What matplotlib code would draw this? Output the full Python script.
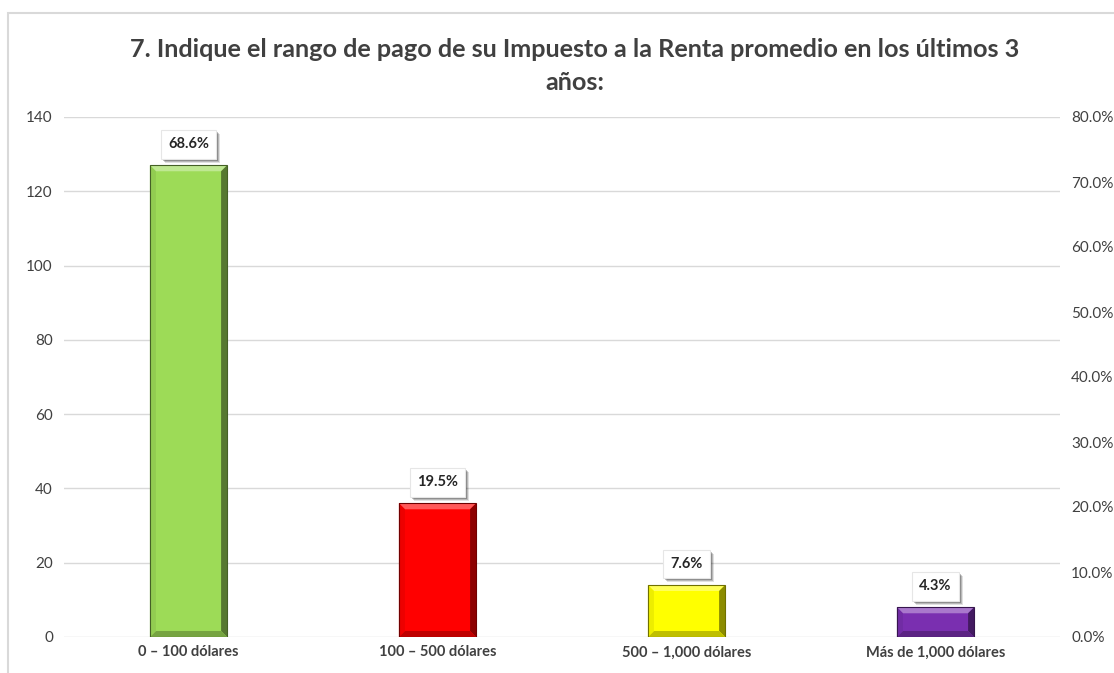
import numpy as np
import matplotlib
matplotlib.use("Agg")
from matplotlib import pyplot as plt
from matplotlib.patches import Rectangle, Polygon
import matplotlib.colors as mcolors

plt.rcParams['font.family'] = ['Lato', 'DejaVu Sans']

categories = ['0 – 100 dólares', '100 – 500 dólares', '500 – 1,000 dólares', 'Más de 1,000 dólares']
counts = [127, 36, 14, 8]
bar_colors = ['#9ddb57', '#ff0000', '#ffff00', '#7a2fb0']
left_ticks = [0, 20, 40, 60, 80, 100, 120, 140]
right_ticks = [0.0, 10.0, 20.0, 30.0, 40.0, 50.0, 60.0, 70.0, 80.0]
title = '7. Indique el rango de pago de su Impuesto a la Renta promedio en los últimos 3\naños:'

total = sum(counts)
pcts = [100.0 * c / total for c in counts]

W, H = 1114, 673
fig = plt.figure(figsize=(W / 100, H / 100), dpi=100)
ax = fig.add_axes([64 / W, 1 - 637 / H, (1060 - 64) / W, (637 - 117) / H])

# outer chart frame
fig.patches.append(Rectangle((8 / W, -0.05), 1.2, 1 - 13 / H + 0.05, transform=fig.transFigure,
                             fill=False, edgecolor='#d9d9d9', linewidth=1.5))

x = np.arange(len(categories))
bars = ax.bar(x, counts, width=0.31, color=bar_colors, zorder=3)
ax.set_xlim(-0.5, len(categories) - 0.5)
ax.set_ylim(0, 140)
ax.set_yticks(left_ticks)
ax.grid(axis='y', color='#d9d9d9', linewidth=1, zorder=0)
ax.set_axisbelow(True)
for s in ax.spines.values():
    s.set_visible(False)
ax.tick_params(axis='y', length=0, pad=8, labelsize=11, labelcolor='#404040')
ax.tick_params(axis='x', length=0, pad=6, labelsize=10.5, labelcolor='#404040')
ax.set_xticks(x)
ax.set_xticklabels(categories, fontweight='bold')

ax2 = ax.twinx()
ax2.set_ylim(0, 80)
ax2.set_yticks(right_ticks)
ax2.set_yticklabels(['%.1f%%' % t for t in right_ticks])
ax2.tick_params(axis='y', length=0, pad=8, labelsize=11, labelcolor='#404040')
for s in ax2.spines.values():
    s.set_visible(False)

# bevel shading on each bar
fig.canvas.draw()
to_px = ax.transData
from_px = ax.transData.inverted()
bev = 6
for b, col in zip(bars, bar_colors):
    x0, y0 = to_px.transform((b.get_x(), 0))
    x1, y1 = to_px.transform((b.get_x() + b.get_width(), b.get_height()))
    base = np.array(mcolors.to_rgb(col))
    light = np.clip(base + (1 - base) * 0.35, 0, 1)
    dark = base * 0.55
    mid = base * 0.75
    faces = [
        ([(x0, y1), (x1, y1), (x1 - bev, y1 - bev), (x0 + bev, y1 - bev)], light),
        ([(x1, y1), (x1, y0), (x1 - bev, y0 + bev), (x1 - bev, y1 - bev)], dark),
        ([(x0, y0), (x1, y0), (x1 - bev, y0 + bev), (x0 + bev, y0 + bev)], mid),
        ([(x0, y1), (x0, y0), (x0 + bev, y0 + bev), (x0 + bev, y1 - bev)], np.clip(base * 0.93, 0, 1)),
    ]
    for pts, c in faces:
        ax.add_patch(Polygon(from_px.transform(pts), closed=True, facecolor=c,
                             edgecolor='none', zorder=4))
    ax.add_patch(Rectangle((b.get_x(), 0), b.get_width(), b.get_height(), fill=False,
                           edgecolor=dark * 0.8, linewidth=0.8, zorder=5))

# value labels in white boxes with drop shadow
labels = []
for b, p in zip(bars, pcts):
    cx = b.get_x() + b.get_width() / 2
    t = ax.annotate('%.1f%%' % p, (cx, b.get_height()), xytext=(0, 15), textcoords='offset points',
                    ha='center', va='center', fontsize=10.5, fontweight='bold', color='#262626',
                    zorder=7,
                    bbox=dict(boxstyle='square,pad=0.5', facecolor='white', edgecolor='#e6e6e6',
                              linewidth=0.8))
    labels.append(t)

fig.canvas.draw()
renderer = fig.canvas.get_renderer()
for t in labels:
    bb = t.get_bbox_patch().get_window_extent(renderer)
    for k, a in [(4, 0.12), (3, 0.18), (2, 0.25)]:
        pts = [(bb.x0 + k, bb.y0 - k), (bb.x1 + k, bb.y0 - k), (bb.x1 + k, bb.y1 - k), (bb.x0 + k, bb.y1 - k)]
        ax.add_patch(Polygon(from_px.transform(pts), closed=True, facecolor='black', alpha=a,
                             edgecolor='none', zorder=6))

fig.text(575 / W, 1 - 66 / H, title, ha='center', va='center', fontsize=18.2, fontweight='bold',
         color='#404040', linespacing=1.5)

fig.savefig('out.png', dpi=100)
